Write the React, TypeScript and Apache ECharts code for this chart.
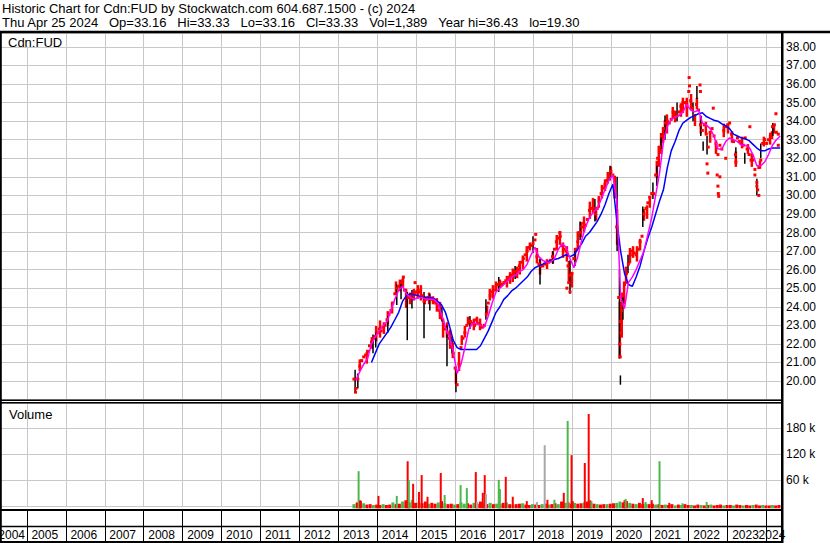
import React, { useEffect, useRef } from "react";
import * as echarts from "echarts";

const FONT = "'Liberation Sans', Arial, Helvetica, sans-serif";
const GRID_COLOR = "#c8c8c8";

const headerLine1 = "Historic Chart for Cdn:FUD by Stockwatch.com 604.687.1500 - (c) 2024";
const headerItems = ["Thu Apr 25 2024", "Op=33.16", "Hi=33.33", "Lo=33.16", "Cl=33.33", "Vol=1,389", "Year hi=36.43", "lo=19.30"];
const symbolLabel = "Cdn:FUD";
const volumeLabel = "Volume";

const yearLabels = [2004, 2005, 2006, 2007, 2008, 2009, 2010, 2011, 2012, 2013, 2014, 2015, 2016, 2017, 2018, 2019, 2020, 2021, 2022, 2023, 2024];

// closing prices, one every 0.05 year from 2013.40
const PRICE_START = 2013.4;
const PRICE_STEP = 0.05;
const closes = [
  20.1, 19.6, 20.1, 20.8, 21.1, 21.3, 21.4, 21.6, 21.9, 22.1,
  22.3, 22.4, 22.6, 22.8, 22.7, 22.9, 23.0, 23.3, 23.6, 23.8,
  24.2, 24.7, 25.0, 25.1, 25.3, 25.4, 24.9, 24.6, 24.5, 24.6,
  24.7, 24.7, 24.8, 24.9, 24.8, 24.6, 24.3, 24.4, 24.5, 24.5,
  24.4, 24.3, 24.2, 24.0, 23.8, 23.4, 23.0, 22.8, 22.6, 22.3,
  22.0, 21.5, 20.7, 19.8, 20.9, 21.8, 22.3, 22.6, 23.0, 23.2,
  23.2, 23.1, 23.0, 23.3, 23.1, 23.0, 22.9, 23.0, 23.6, 24.2,
  24.6, 24.8, 24.9, 25.1, 25.2, 25.3, 25.2, 25.3, 25.4, 25.5,
  25.6, 25.7, 25.8, 25.9, 26.0, 26.2, 26.4, 26.6, 26.8, 27.0,
  27.2, 27.3, 27.4, 27.6, 26.7, 26.3, 26.2, 26.2, 26.3, 26.4,
  26.4, 26.5, 26.7, 27.1, 27.5, 27.7, 27.8, 27.3, 27.1, 27.0,
  26.2, 25.7, 25.8, 26.6, 27.1, 27.5, 28.0, 28.3, 28.5, 28.4,
  28.7, 29.2, 29.3, 29.3, 29.0, 29.3, 29.7, 30.1, 30.4, 30.6,
  30.8, 31.1, 31.3, 31.1, 30.2, 28.3, 24.5, 23.2, 24.1, 25.2,
  25.8, 26.3, 26.8, 27.0, 26.9, 26.8, 27.1, 27.5, 27.8, 29.0,
  29.3, 29.6, 29.9, 30.1, 30.1, 31.1, 32.0, 32.6, 33.2, 33.6,
  33.9, 34.0, 33.9, 34.1, 34.5, 34.3, 34.3, 34.5, 34.8, 35.0,
  35.0, 34.9, 35.6, 35.1, 34.7, 34.3, 34.9, 34.6, 33.8, 33.5,
  33.8, 33.3, 32.6, 33.4, 33.6, 33.2, 32.8, 32.2, 32.7, 32.5,
  33.5, 33.7, 33.8, 33.9, 33.3, 32.9, 32.2, 33.1, 32.9, 32.8,
  32.7, 33.1, 32.5, 32.2, 31.9, 31.9, 31.4, 30.5, 31.5, 31.9,
  32.8, 33.0, 32.8, 33.0, 33.3, 33.7, 33.8, 33.4, 33.3,
];

// spread of trades around the close, drawn in red [year, low, high]
const tradingRanges: [number, number, number][] = [
  [2013.55, 20.6, 21.1], [2013.73, 21.0, 21.5], [2013.86, 21.8, 22.3], [2013.97, 22.2, 22.9], [2014.07, 22.4, 23.2],
  [2014.17, 22.6, 23.1], [2014.27, 23.1, 23.7], [2014.38, 23.7, 24.2], [2014.48, 24.7, 25.3], [2014.58, 24.9, 25.4],
  [2014.66, 25.1, 25.5], [2014.74, 24.0, 24.9], [2014.84, 24.2, 24.7], [2014.94, 24.4, 24.9], [2015.04, 24.5, 25.1],
  [2015.12, 24.4, 25.1], [2015.22, 24.2, 24.5], [2015.33, 24.2, 24.7], [2015.43, 24.2, 24.5], [2015.53, 23.8, 24.4],
  [2015.61, 23.4, 24.2], [2015.69, 22.4, 23.3], [2015.79, 22.4, 23.1], [2015.87, 21.8, 22.7], [2015.94, 21.3, 22.0],
  [2016.02, 19.9, 20.6], [2016.10, 20.6, 21.5], [2016.17, 22.0, 22.4], [2016.25, 22.4, 22.9], [2016.33, 23.1, 23.4],
  [2016.48, 22.8, 23.3], [2016.56, 23.1, 23.4], [2016.64, 22.8, 23.3], [2016.82, 23.7, 24.0], [2016.89, 24.4, 24.9],
  [2016.97, 24.5, 25.1], [2017.05, 24.9, 25.3], [2017.15, 25.1, 25.4], [2017.33, 25.1, 25.6], [2017.41, 25.3, 25.8],
  [2017.48, 25.4, 26.0], [2017.59, 25.6, 26.1], [2017.66, 25.8, 26.4], [2017.74, 26.1, 26.7], [2017.84, 26.5, 27.2],
  [2017.92, 27.1, 27.4], [2018.10, 26.4, 27.1], [2018.18, 25.8, 26.5], [2018.36, 26.1, 26.5], [2018.51, 26.4, 26.9],
  [2018.61, 27.1, 27.8], [2018.69, 27.4, 28.0], [2018.77, 26.7, 27.4], [2018.87, 26.5, 27.2], [2018.92, 25.3, 26.4],
  [2019.00, 25.1, 25.8], [2019.08, 26.5, 27.1], [2019.15, 27.2, 28.0], [2019.23, 27.8, 28.5], [2019.31, 28.1, 28.8],
  [2019.46, 28.8, 29.6], [2019.54, 29.1, 29.8], [2019.62, 28.7, 29.2], [2019.69, 29.4, 29.9], [2019.77, 29.9, 30.5],
  [2019.85, 30.3, 30.8], [2019.92, 30.7, 31.2], [2020.00, 31.2, 31.5], [2020.10, 29.9, 31.0], [2020.16, 27.4, 29.2],
  [2020.23, 21.3, 24.2], [2020.28, 22.4, 24.7], [2020.34, 24.2, 25.3], [2020.39, 25.3, 26.1], [2020.49, 26.4, 27.1],
  [2020.57, 26.7, 27.2], [2020.67, 26.5, 27.2], [2020.75, 27.1, 27.6], [2020.85, 28.7, 29.2], [2020.93, 28.8, 29.4],
  [2021.00, 29.4, 29.9], [2021.18, 31.0, 31.8], [2021.23, 31.6, 32.6], [2021.29, 32.3, 33.3], [2021.34, 32.9, 33.6],
  [2021.39, 33.4, 34.0], [2021.44, 33.4, 34.3], [2021.59, 34.2, 34.7], [2021.65, 34.0, 34.5], [2021.80, 34.3, 34.9],
  [2021.85, 34.5, 35.2], [2021.95, 34.3, 35.2], [2022.06, 34.7, 35.4], [2022.16, 33.8, 34.3], [2022.21, 34.7, 35.2],
  [2022.31, 33.4, 34.2], [2022.44, 33.4, 33.9], [2022.55, 32.9, 33.4], [2022.70, 32.3, 32.9], [2022.90, 33.2, 33.8],
  [2023.01, 33.4, 33.8], [2023.11, 32.9, 33.4], [2023.21, 31.6, 32.3], [2023.37, 32.6, 33.1], [2023.52, 32.3, 32.7],
  [2023.62, 31.6, 32.2], [2023.83, 31.5, 31.8], [2023.93, 32.7, 33.1], [2024.09, 32.8, 33.2], [2024.14, 33.1, 33.4],
  [2024.19, 33.4, 33.8],
];

// isolated trades away from the main cloud [year, price]
const strayTrades: [number, number][] = [
  [2013.44, 19.4], [2014.67, 25.6], [2014.97, 25.3], [2018.07, 27.9], [2018.69, 28.0],
  [2018.87, 25.0], [2018.92, 25.3], [2018.95, 24.8],
  [2020.23, 22.0], [2020.24, 21.3], [2020.26, 22.6], [2020.28, 23.8],
  [2022.01, 36.35], [2022.02, 35.9], [2022.29, 35.95], [2022.30, 35.6], [2022.63, 34.7],
  [2022.47, 31.7], [2022.49, 31.2], [2022.73, 31.1], [2022.75, 30.5], [2022.76, 30.1],
  [2022.77, 29.95], [2022.80, 31.0], [2022.95, 32.0], [2023.21, 31.8], [2023.57, 33.7],
  [2023.70, 31.1], [2023.75, 30.7], [2023.77, 30.3], [2023.80, 30.0], [2024.24, 34.4], [2024.30, 32.7],
];

// visible daily ranges drawn in black [year, low, high]
const rangeBars: [number, number, number][] = [
  [2013.43, 19.4, 20.6], [2013.50, 19.6, 20.4], [2013.89, 21.5, 22.5], [2013.96, 21.8, 22.6],
  [2014.27, 22.6, 23.5], [2014.50, 24.1, 25.2], [2014.61, 24.4, 25.4], [2014.77, 22.2, 24.8],
  [2014.89, 23.9, 24.9], [2015.20, 22.3, 24.8], [2015.35, 23.8, 24.7], [2015.66, 23.2, 24.0],
  [2015.79, 20.8, 23.0], [2015.92, 21.5, 22.4], [2016.02, 19.4, 20.8], [2016.38, 22.8, 23.5],
  [2016.79, 23.3, 24.4], [2017.12, 24.8, 25.6], [2017.54, 25.5, 26.2], [2018.00, 26.9, 27.8],
  [2018.18, 25.2, 26.6], [2018.51, 26.3, 27.0], [2018.95, 24.7, 26.5], [2019.08, 26.2, 27.0],
  [2019.21, 27.6, 28.6], [2019.59, 28.6, 29.8], [2019.98, 30.8, 31.6], [2020.16, 27.0, 31.0],
  [2020.22, 21.2, 26.0], [2020.245, 19.8, 20.3], [2020.31, 23.3, 24.5], [2020.44, 25.8, 26.8],
  [2020.82, 28.3, 29.4], [2021.08, 29.8, 30.7], [2021.18, 30.5, 31.6], [2021.29, 32.5, 33.3],
  [2021.39, 33.0, 34.3], [2021.70, 34.0, 35.0], [2022.11, 34.0, 35.0], [2022.21, 35.2, 35.9],
  [2022.31, 33.2, 34.3], [2022.37, 32.4, 32.9], [2022.47, 32.2, 33.2], [2023.21, 32.0, 32.6],
  [2023.44, 31.7, 32.3], [2023.75, 30.0, 30.9], [2023.85, 32.0, 32.8], [2024.16, 33.2, 33.9],
];

// moving averages, one value every 0.1 year
const MA_STEP = 0.1;
const FAST_MA_START = 2013.45;
const fastMA = [
  20.05, 20.5, 20.9, 21.2, 22.0, 22.4, 22.7, 23.0, 23.2, 23.8,
  24.4, 24.9, 25.1, 24.7, 24.5, 24.4, 24.5, 24.5, 24.4, 24.4,
  24.4, 24.2, 23.6, 22.9, 22.4, 21.6, 20.4, 20.9, 21.8, 22.8,
  23.1, 23.1, 23.0, 22.9, 23.5, 24.2, 24.8, 25.0, 25.2, 25.4,
  25.6, 25.7, 25.9, 26.0, 26.3, 26.8, 27.2, 26.7, 26.5, 26.4,
  26.4, 26.6, 27.1, 27.4, 27.2, 26.6, 26.1, 26.7, 27.6, 28.3,
  28.8, 29.1, 29.3, 29.8, 30.3, 30.8, 31.1, 29.8, 24.5, 23.9,
  25.3, 25.6, 26.0, 26.5, 27.0, 27.9, 28.8, 30.0, 31.2, 32.9,
  33.7, 34.1, 34.2, 34.3, 34.5, 34.9, 34.6, 34.5, 34.6, 33.9,
  33.8, 33.6, 33.2, 32.5, 32.5, 32.9, 33.1, 33.0, 32.9, 32.7,
  32.7, 32.6, 32.2, 31.6, 31.6, 31.8, 32.2, 32.7, 33.0, 33.2,
];
const SLOW_MA_START = 2013.85;
const slowMA = [
  21.0, 21.5, 22.0, 22.3, 22.6, 22.9, 23.3, 23.7, 24.3, 24.6,
  24.7, 24.65, 24.6, 24.5, 24.5, 24.5, 24.45, 24.3, 24.1, 23.7,
  23.0, 22.2, 21.8, 21.7, 21.7, 21.7, 21.7, 21.7, 21.9, 22.3,
  22.7, 23.2, 23.7, 24.0, 24.4, 24.6, 24.85, 25.0, 25.2, 25.4,
  25.6, 25.9, 26.1, 26.2, 26.3, 26.4, 26.5, 26.55, 26.6, 26.7,
  26.8, 26.7, 26.8, 27.1, 27.4, 27.8, 28.0, 28.3, 28.6, 29.0,
  29.5, 30.1, 30.6, 28.7, 27.0, 25.8, 25.2, 25.1, 25.6, 26.2,
  27.0, 27.7, 28.3, 29.0, 29.7, 30.3, 31.5, 32.4, 32.9, 33.5,
  33.9, 34.05, 34.2, 34.3, 34.4, 34.45, 34.25, 34.15, 34.05, 34.0,
  33.85, 33.75, 33.6, 33.3, 33.2, 33.1, 33.05, 32.95, 32.75, 32.55,
  32.4, 32.4, 32.5, 32.55, 32.55, 32.55,
];

// volume (thousands of shares): monthly background + individual large days
const VOL_START = 2013.4;
const VOL_STEP = 1 / 12;
const baseVolume = [
  5, 9, 12, 7, 4, 5, 3, 4,
  3, 5, 3, 4, 9, 5, 6, 11, 14, 9, 15, 8,
  9, 7, 11, 6, 8, 6, 9, 12, 7, 5, 6, 4,
  5, 9, 6, 7, 4, 8, 6, 11, 7, 5, 8, 5,
  6, 5, 8, 9, 5, 4, 5, 6, 7, 4, 3, 5,
  4, 3, 5, 6, 4, 5, 7, 5, 11, 8, 9, 6,
  8, 6, 7, 9, 11, 8, 6, 5, 4, 5, 5, 6,
  7, 8, 11, 9, 12, 8, 6, 5, 8, 5, 6, 5,
  6, 4, 5, 3, 4, 3, 5, 2, 4, 3, 5, 3,
  3, 2, 4, 3, 2, 3, 4, 2, 3, 4, 2, 3,
  3, 2, 4, 3, 2, 3, 2, 3, 4, 2, 3, 2,
  2, 3, 2, 3,
];
const baseDirection =
  "grrgrrgr" + "rgrrgrrgrrgr" + "grrgrrgrgrrg" + "rggrrgrrgrgr" + "grrgrgrrgrrg" +
  "rrgrgrrgrgrr" + "grrgrgrgrrgr" + "rggrrgrgrrgr" + "rgrrgrrgrgrr" + "grrgrrgrrrgr" +
  "rgrrgrrgrrgr" + "rgrr";
// [year, thousands, direction: 1 up, -1 down, 0 unchanged]
const volumeSpikes: [number, number, number][] = [
  [2013.52, 81, 1], [2013.56, 14, -1], [2014.03, 24, -1], [2014.50, 24, 1], [2014.78, 104, -1],
  [2014.81, 61, 1], [2014.92, 52, -1], [2015.07, 33, -1], [2015.14, 72, -1], [2015.29, 22, -1],
  [2015.63, 77, -1], [2015.73, 26, 1], [2016.14, 49, 1], [2016.30, 42, 1], [2016.53, 79, -1],
  [2016.56, 10, 0], [2016.71, 31, -1], [2016.76, 72, -1], [2016.79, 28, 0], [2017.12, 61, 1],
  [2017.15, 40, 1], [2017.30, 68, -1], [2017.48, 22, -1], [2017.84, 12, -1], [2018.10, 10, 0],
  [2018.30, 141, 0], [2018.37, 15, -1], [2018.55, 15, 1], [2018.79, 31, -1], [2018.89, 197, 1],
  [2018.99, 118, -1], [2019.02, 12, -1], [2019.33, 100, -1], [2019.43, 213, -1], [2019.47, 14, -1],
  [2019.50, 12, 1], [2020.35, 14, -1], [2020.38, 17, 1], [2020.82, 19, -1], [2020.89, 10, 1],
  [2021.05, 14, -1], [2021.25, 104, 1], [2021.50, 8, -1], [2021.84, 7, 1], [2022.46, 10, 1],
];

const VOL_COLORS: Record<string, string> = { "1": "#4cb84c", "-1": "#ff0000", "0": "#a8a8a8" };

export default function App() {
  const ref = useRef<HTMLDivElement>(null);
  useEffect(() => {
    if (!ref.current) return;
    const chart = echarts.init(ref.current, null, { renderer: "svg" });

    const closeData = closes.map((v, i) => [PRICE_START + i * PRICE_STEP, v]);
    const fastData = fastMA.map((v, i) => [FAST_MA_START + i * MA_STEP, v]);
    const slowData = slowMA.map((v, i) => [SLOW_MA_START + i * MA_STEP, v]);
    const baseVolData = baseVolume.map((v, i) => [VOL_START + i * VOL_STEP, v, baseDirection[i] === "g" ? 1 : -1]);

    // label anchors: each year label starts just right of its year line;
    // the first is clipped by the frame, the last is pushed against the previous one
    const mainYears = yearLabels.slice(0, -1);
    const lastYear = yearLabels[yearLabels.length - 1];
    const mainAnchors = mainYears.map((y) => (y === 2004 ? 2004.265 : y + 0.116));
    const lastAnchor = lastYear - 0.205;

    const volRender = (width: number) => (params: any, api: any) => {
      const x = api.value(0);
      const v = api.value(1);
      const dir = api.value(2);
      const top = api.coord([x, v]);
      const base = api.coord([x, 0]);
      return {
        type: "rect",
        shape: { x: top[0] - width / 2, y: top[1], width, height: base[1] - top[1] + 2 },
        style: { fill: VOL_COLORS[String(dir)] },
      };
    };
    const rangeRender = (width: number, color: string, pad: number) => (params: any, api: any) => {
      const x = api.value(0);
      const lo = api.coord([x, api.value(1)]);
      const hi = api.coord([x, api.value(2)]);
      return {
        type: "rect",
        shape: { x: lo[0] - width / 2, y: hi[1] - pad, width, height: lo[1] - hi[1] + 2 * pad },
        style: { fill: color },
      };
    };

    const textEl = (text: string, x: number, y: number) => ({
      type: "text",
      z: 120,
      style: {
        text, x, y, fill: "#000", font: `13px ${FONT}`,
        textAlign: "left", textVerticalAlign: "middle", align: "left", verticalAlign: "middle",
      },
    });
    const bar = (x: number, y: number, w: number, h: number, z = 100) => ({
      type: "rect", z, shape: { x, y, width: w, height: h }, style: { fill: "#000" },
    });
    const yearLabelStyle = { align: "left", margin: 20, fontSize: 12, fontFamily: FONT, color: "#000", hideOverlap: false };

    const option: any = {
      animation: false,
      backgroundColor: "#ffffff",
      grid: [
        { left: -12, top: 33, width: 793, height: 366.56, containLabel: false, outerBoundsMode: "none" },
        { left: -12, top: 403, width: 793, height: 103.3, containLabel: false, outerBoundsMode: "none" },
      ],
      xAxis: [
        {
          type: "value", gridIndex: 0, position: "bottom", min: 2004, max: 2024.37, interval: 1,
          axisLine: { show: false }, axisTick: { show: false }, axisLabel: { show: false },
          splitLine: { show: true, lineStyle: { color: GRID_COLOR, width: 1 } },
        },
        {
          type: "value", gridIndex: 1, position: "bottom", min: 2004, max: 2024.37, interval: 1, offset: 3,
          axisLine: { show: true, onZero: false, lineStyle: { color: "#000", width: 2 } },
          axisTick: { show: true, length: 32, lineStyle: { color: "#000", width: 1 } },
          axisLabel: {
            ...yearLabelStyle, show: true, customValues: mainAnchors,
            formatter: (v: number) => {
              const idx = mainAnchors.findIndex((a) => Math.abs(a - v) < 1e-6);
              return idx >= 0 ? String(mainYears[idx]) : "";
            },
          },
          splitLine: { show: true, lineStyle: { color: GRID_COLOR, width: 1 } },
        },
        {
          type: "value", gridIndex: 1, position: "bottom", min: 2004, max: 2024.37, offset: 3,
          axisLine: { show: false, onZero: false }, axisTick: { show: false }, splitLine: { show: false },
          axisLabel: { ...yearLabelStyle, show: true, customValues: [lastAnchor], formatter: () => String(lastYear) },
        },
      ],
      yAxis: [
        {
          type: "value", gridIndex: 0, position: "right", min: 19, max: 38.75, interval: 1,
          axisLine: { show: false }, axisTick: { show: false },
          splitLine: { show: true, lineStyle: { color: GRID_COLOR, width: 1 } },
          axisLabel: {
            margin: 5, fontSize: 12, fontFamily: FONT, color: "#000",
            formatter: (v: number) => (v >= 20 && Math.abs(v - Math.round(v)) < 1e-6 ? v.toFixed(2) : ""),
          },
        },
        {
          type: "value", gridIndex: 1, position: "right", min: 0, max: 238.4, interval: 60,
          axisLine: { show: false }, axisTick: { show: false },
          splitLine: { show: true, lineStyle: { color: GRID_COLOR, width: 1 } },
          axisLabel: {
            margin: 5, fontSize: 12, fontFamily: FONT, color: "#000",
            formatter: (v: number) => (v > 0 && v <= 180 ? `${v} k` : ""),
          },
        },
      ],
      series: [
        {
          type: "custom", name: "spread", xAxisIndex: 0, yAxisIndex: 0, z: 2, silent: true, clip: false,
          encode: { x: 0, y: [1, 2] }, data: tradingRanges, renderItem: rangeRender(2.5, "#ff0000", 1.2),
        },
        {
          type: "custom", name: "range", xAxisIndex: 0, yAxisIndex: 0, z: 3, silent: true, clip: false,
          encode: { x: 0, y: [1, 2] }, data: rangeBars, renderItem: rangeRender(1.5, "#000000", 0),
        },
        {
          type: "scatter", name: "close", xAxisIndex: 0, yAxisIndex: 0, z: 4, silent: true,
          symbol: "rect", symbolSize: 3, itemStyle: { color: "#ff0000", opacity: 1 },
          data: closeData,
        },
        {
          type: "scatter", name: "trades", xAxisIndex: 0, yAxisIndex: 0, z: 4, silent: true,
          symbol: "rect", symbolSize: 3, itemStyle: { color: "#ff0000", opacity: 1 },
          data: strayTrades,
        },
        {
          type: "line", name: "slow", xAxisIndex: 0, yAxisIndex: 0, z: 5, silent: true,
          showSymbol: false, symbol: "none", lineStyle: { color: "#0000ff", width: 1.5 },
          data: slowData,
        },
        {
          type: "line", name: "fast", xAxisIndex: 0, yAxisIndex: 0, z: 6, silent: true,
          showSymbol: false, symbol: "none", lineStyle: { color: "#ff00ff", width: 1.5 },
          data: fastData,
        },
        {
          type: "custom", name: "volBase", xAxisIndex: 1, yAxisIndex: 1, z: 2, silent: true, clip: false,
          encode: { x: 0, y: 1 }, data: baseVolData, renderItem: volRender(3),
        },
        {
          type: "custom", name: "volSpikes", xAxisIndex: 1, yAxisIndex: 1, z: 3, silent: true, clip: false,
          encode: { x: 0, y: 1 }, data: volumeSpikes, renderItem: volRender(2),
        },
      ],
      graphic: [
        bar(0, 30.8, 830, 2.4),
        bar(0, 33, 1.8, 510),
        bar(781, 33, 2.5, 510),
        bar(0, 399.5, 783, 1.6),
        bar(0, 402, 783, 1.4),
        bar(0, 525.8, 783, 1.5),
        bar(0, 541, 783, 2),
        { type: "rect", z: 50, shape: { x: 4, y: 34, width: 62, height: 12.5 }, style: { fill: "#fff" } },
        textEl(headerLine1, 2, 8),
        textEl(headerItems.join("\u00a0\u00a0\u00a0"), 2, 22),
        textEl(symbolLabel, 8, 42),
        textEl(volumeLabel, 9, 414),
      ],
    };
    chart.setOption(option);
    return () => chart.dispose();
  }, []);
  return <div ref={ref} style={{ position: "absolute", left: 0, top: 0, width: 830, height: 543 }} />;
}
